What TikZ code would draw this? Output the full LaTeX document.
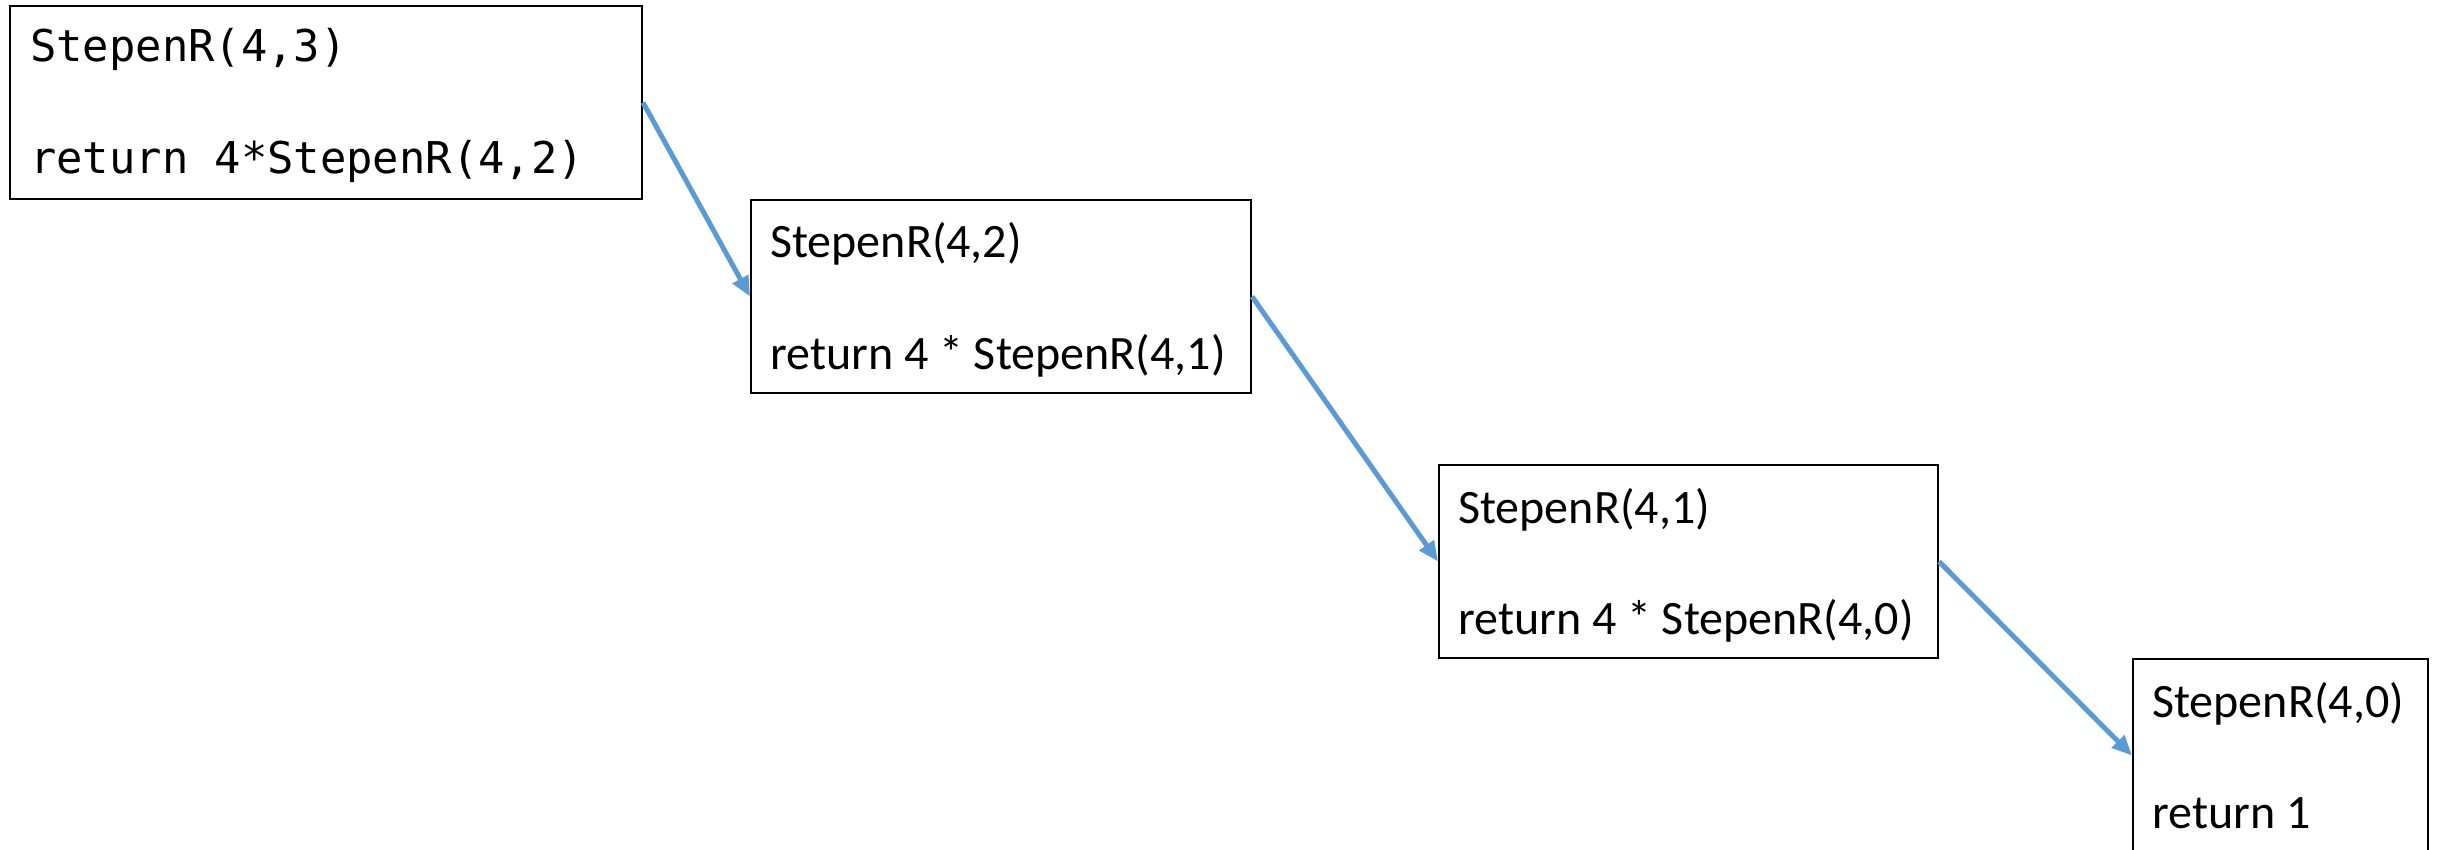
\documentclass[tikz,border=0pt]{standalone}
\usepackage{fontspec}
\setmainfont{Carlito}
\newfontfamily\codefont{DejaVu Sans Mono}
\usetikzlibrary{arrows.meta}
\definecolor{arrowblue}{RGB}{91,155,213}
\begin{document}
\begin{tikzpicture}[x=1pt,y=-1pt,
  callbox/.style={draw=black, line width=2pt, rectangle, inner sep=0pt, anchor=north west, minimum height=193pt},
  txt/.style={anchor=base west, inner sep=0pt, font=\fontsize{48}{57}\selectfont},
  codetxt/.style={anchor=base west, inner sep=0pt, font=\codefont\fontsize{43.8}{52}\selectfont},
  calls/.style={draw=arrowblue, line width=5pt, -{Triangle[length=20pt,width=17pt]}}]
\useasboundingbox (0,0) rectangle (2440,850);
\fill[white] (0,0) rectangle (2440,850);
\node[callbox, minimum width=632pt] (b1) at (9,5) {};
\node[callbox, minimum width=500pt] (b2) at (750,199) {};
\node[callbox, minimum width=499pt] (b3) at (1438,464) {};
\node[callbox, minimum width=295pt] (b4) at (2132,658) {};
\node[codetxt] (t1a) at ([xshift=21pt,yshift=-57pt]b1.north west) {StepenR(4,3)};
\node[codetxt] (t1b) at ([xshift=21pt,yshift=-169pt]b1.north west) {return 4*StepenR(4,2)};
\node[txt] (t2a) at ([xshift=20pt,yshift=-59pt]b2.north west) {StepenR(4,2)};
\node[txt] (t2b) at ([xshift=20pt,yshift=-170pt]b2.north west) {return 4 * StepenR(4,1)};
\node[txt] (t3a) at ([xshift=20pt,yshift=-59pt]b3.north west) {StepenR(4,1)};
\node[txt] (t3b) at ([xshift=20pt,yshift=-170pt]b3.north west) {return 4 * StepenR(4,0)};
\node[txt] (t4a) at ([xshift=20pt,yshift=-59pt]b4.north west) {StepenR(4,0)};
\node[txt] (t4b) at ([xshift=20pt,yshift=-170pt]b4.north west) {return 1};
\draw[calls] (b1.east) -- (b2.west);
\draw[calls] (b2.east) -- (b3.west);
\draw[calls] (b3.east) -- (b4.west);
\end{tikzpicture}
\end{document}
